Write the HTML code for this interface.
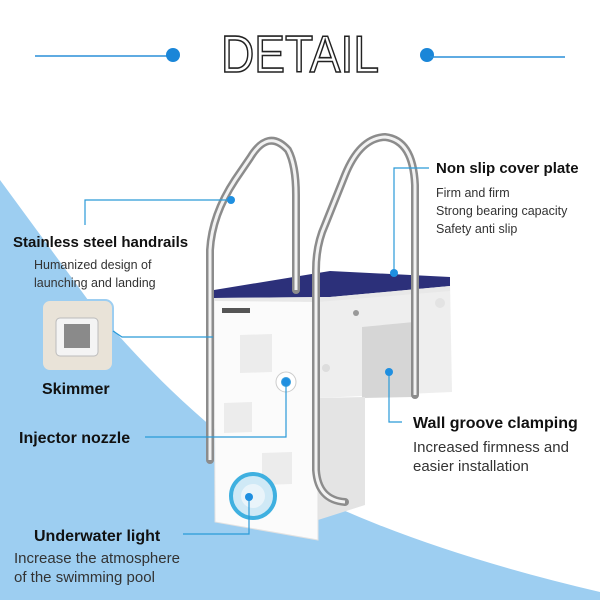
<!DOCTYPE html>
<html><head><meta charset="utf-8"><style>
html,body{margin:0;padding:0;background:#fff;}
svg{display:block;}
</style></head><body>
<svg width="600" height="600" viewBox="0 0 600 600" xmlns="http://www.w3.org/2000/svg" font-family="Liberation Sans, sans-serif">
<rect width="600" height="600" fill="#fff"/>
<path d="M0,180 L88,300 C130,350 200,430 300,490 Q420,550 600,592 L600,600 L0,600 Z" fill="#9dcef1"/>
<!-- title -->
<line x1="35" y1="56" x2="170" y2="56" stroke="#2a8fd8" stroke-width="1.5"/>
<circle cx="173" cy="55" r="7" fill="#1a86d8"/>
<circle cx="427" cy="55" r="7" fill="#1a86d8"/>
<line x1="430" y1="57" x2="565" y2="57" stroke="#2a8fd8" stroke-width="1.5"/>
<text x="221" y="72" font-size="52" textLength="158" lengthAdjust="spacingAndGlyphs" fill="#fff" stroke="#222" stroke-width="1.6">DETAIL</text>
<!-- product -->
<polygon points="318,290 450,282 452,392 318,398" fill="#eeeeee"/>
<polygon points="362,327 414,322 414,397 362,398" fill="#d6d6d6"/>
<polygon points="318,398 365,397 365,505 318,520" fill="#e4e4e4"/>
<polygon points="214,296 318,300 318,540 215,522" fill="#fbfbfb" stroke="#e2e2e2"/>
<polygon points="214,290 330,271 450,277 450,286 330,297 214,298" fill="#2c307a"/>
<polygon points="214,298 330,297 450,286 450,291 318,302 214,301" fill="#e8e8e8"/>
<rect x="222" y="308" width="28" height="5" fill="#555"/>
<polygon points="240,335 272,334 272,372 240,373" fill="#ececec"/>
<polygon points="224,403 252,402 252,432 224,433" fill="#ececec"/>
<polygon points="262,453 292,452 292,484 262,485" fill="#ececec"/>
<circle cx="286" cy="382" r="10" fill="#fff" stroke="#ccc"/>
<circle cx="286" cy="382" r="5" fill="#3aa0e0"/>
<circle cx="253" cy="496" r="22" fill="#cfe9f6" stroke="#3fb0e0" stroke-width="4"/>
<circle cx="253" cy="496" r="12" fill="#e9f4fa"/>
<circle cx="326" cy="368" r="4" fill="#ddd"/>
<circle cx="356" cy="313" r="3" fill="#999"/>
<circle cx="440" cy="303" r="5" fill="#e3e3e3"/>
<!-- rails -->
<path d="M210,460 L210,250 Q212,215 235,180 L250,158 Q268,128 288,150 Q296,165 296,195 L296,290" fill="none" stroke="#8c8c8c" stroke-width="8" stroke-linecap="round"/>
<path d="M210,460 L210,250 Q212,215 235,180 L250,158 Q268,128 288,150 Q296,165 296,195 L296,290" fill="none" stroke="#f2f2f2" stroke-width="3"/>
<path d="M415,395 L415,185 Q413,140 385,137 Q360,138 345,175 L325,225 Q316,245 316,270 L316,470 Q318,500 345,502" fill="none" stroke="#8c8c8c" stroke-width="8" stroke-linecap="round"/>
<path d="M415,395 L415,185 Q413,140 385,137 Q360,138 345,175 L325,225 Q316,245 316,270 L316,470 Q318,500 345,502" fill="none" stroke="#f2f2f2" stroke-width="3"/>
<!-- skimmer image -->
<rect x="42" y="300" width="71" height="71" rx="8" fill="#e9e3d8" stroke="#9dcef1" stroke-width="2"/>
<rect x="56" y="318" width="42" height="38" rx="4" fill="#f4f4f4" stroke="#bbb"/>
<rect x="64" y="324" width="26" height="24" fill="#8a8a8a"/>
<!-- connectors -->
<g stroke="#2a9ad8" stroke-width="1.2" fill="none">
<polyline points="429,168 394,168 394,273"/>
<polyline points="85,225 85,200 231,200"/>
<polyline points="113,331 122,337 213,337"/>
<polyline points="145,437 286,437 286,382"/>
<polyline points="402,422 389,422 389,372"/>
<polyline points="183,534 249,534 249,497"/>
</g>
<g fill="#1f8fe0">
<circle cx="394" cy="273" r="4"/><circle cx="231" cy="200" r="4"/><circle cx="286" cy="382" r="4"/><circle cx="389" cy="372" r="4"/><circle cx="249" cy="497" r="4"/>
</g>
<!-- labels -->
<g fill="#111" font-weight="bold">
<text x="436" y="173" font-size="15">Non slip cover plate</text>
<text x="13" y="247" font-size="15">Stainless steel handrails</text>
<text x="42" y="394" font-size="16">Skimmer</text>
<text x="19" y="443" font-size="16">Injector nozzle</text>
<text x="413" y="428" font-size="16">Wall groove clamping</text>
<text x="34" y="541" font-size="16">Underwater light</text>
</g>
<g fill="#333" font-size="12.5">
<text x="436" y="197">Firm and firm</text>
<text x="436" y="215">Strong bearing capacity</text>
<text x="436" y="233">Safety anti slip</text>
<text x="34" y="269">Humanized design of</text>
<text x="34" y="287">launching and landing</text>
</g>
<g fill="#333" font-size="15">
<text x="413" y="452">Increased firmness and</text>
<text x="413" y="471">easier installation</text>
<text x="14" y="563">Increase the atmosphere</text>
<text x="14" y="582">of the swimming pool</text>
</g>
</svg>
</body></html>
